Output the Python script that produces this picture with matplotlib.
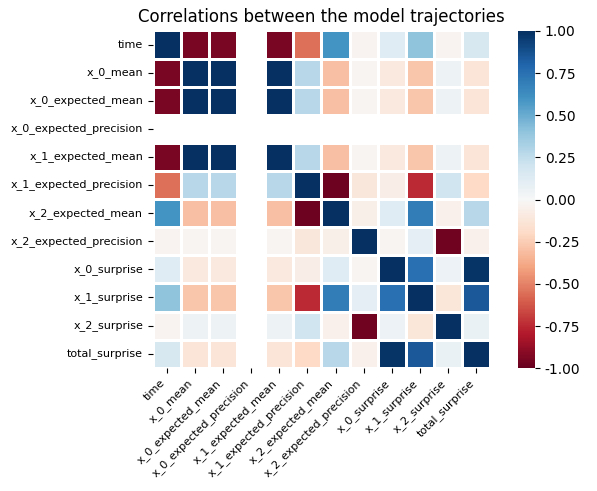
import numpy as np
import pandas as pd
import matplotlib
matplotlib.use("Agg")
import matplotlib.pyplot as plt
import seaborn as sns

names = ["time", "x_0_mean", "x_0_expected_mean", "x_0_expected_precision",
         "x_1_expected_mean", "x_1_expected_precision", "x_2_expected_mean",
         "x_2_expected_precision", "x_0_surprise", "x_1_surprise",
         "x_2_surprise", "total_surprise"]

nan = np.nan
# correlation rows (x_0_expected_precision is constant -> NaN)
r_time = [1.00, -0.95, -0.95, nan, -0.95, -0.55, 0.60, -0.03, 0.12, 0.40, -0.03, 0.17]
r_x0m = [-0.95, 1.00, 1.00, nan, 1.00, 0.28, -0.30, -0.02, -0.10, -0.28, 0.05, -0.13]
r_x0em = [-0.95, 1.00, 1.00, nan, 1.00, 0.28, -0.30, -0.02, -0.10, -0.28, 0.05, -0.13]
r_x0ep = [nan] * 12
r_x1em = [-0.95, 1.00, 1.00, nan, 1.00, 0.28, -0.30, -0.02, -0.10, -0.28, 0.05, -0.13]
r_x1ep = [-0.55, 0.28, 0.28, nan, 0.28, 1.00, -0.98, -0.11, -0.07, -0.75, 0.20, -0.20]
r_x2em = [0.60, -0.30, -0.30, nan, -0.30, -0.98, 1.00, -0.06, 0.12, 0.70, -0.05, 0.28]
r_x2ep = [-0.03, -0.02, -0.02, nan, -0.02, -0.11, -0.06, 1.00, -0.02, 0.10, -0.97, -0.05]
r_x0s = [0.12, -0.10, -0.10, nan, -0.10, -0.07, 0.12, -0.02, 1.00, 0.75, 0.06, 0.98]
r_x1s = [0.40, -0.28, -0.28, nan, -0.28, -0.75, 0.70, 0.10, 0.75, 1.00, -0.12, 0.85]
r_x2s = [-0.03, 0.05, 0.05, nan, 0.05, 0.20, -0.05, -0.97, 0.06, -0.12, 1.00, 0.07]
r_ts = [0.17, -0.13, -0.13, nan, -0.13, -0.20, 0.28, -0.05, 0.98, 0.85, 0.07, 1.00]

corr = pd.DataFrame([r_time, r_x0m, r_x0em, r_x0ep, r_x1em, r_x1ep, r_x2em,
                     r_x2ep, r_x0s, r_x1s, r_x2s, r_ts], index=names, columns=names)

fig = plt.figure(figsize=(5.97, 4.91), dpi=100)
ax = fig.add_axes([0.256, 0.250, 0.565, 0.689])
cax = fig.add_axes([0.868, 0.250, 0.028, 0.687])
sns.heatmap(corr, cmap="RdBu", vmin=-1, vmax=1, linewidths=2, linecolor="white",
            square=True, ax=ax, cbar_ax=cax, cbar_kws={"format": "%.2f"})
ax.set_xticks(np.arange(len(names)) + 0.5)
ax.set_xticklabels(names, rotation=45, ha="right", fontsize=8)
ax.set_yticks(np.arange(len(names)) + 0.5)
ax.set_yticklabels(names, rotation=0, fontsize=8)
ax.set_title("Correlations between the model trajectories", fontsize=12)
cax.tick_params(labelsize=10)
fig.savefig("out.png", dpi=100)
